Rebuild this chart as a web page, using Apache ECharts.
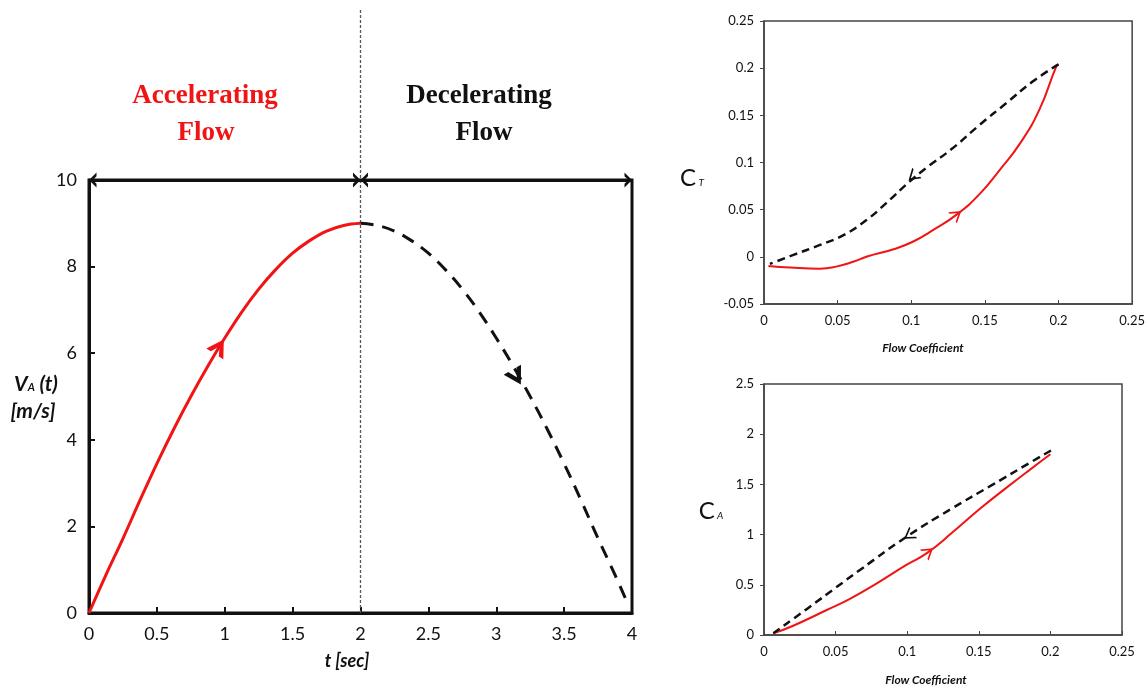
<!DOCTYPE html>
<html><head><meta charset="utf-8">
<script src="https://cdn.jsdelivr.net/npm/echarts@6/dist/echarts.min.js"></script>
<style>html,body{margin:0;padding:0;background:#fff}#c{width:1148px;height:688px}</style>
</head><body><div id="c"></div>
<script>
// ---- data ----
const accT = [0, 0.125, 0.25, 0.375, 0.5, 0.625, 0.75, 0.875, 1, 1.125, 1.25, 1.375, 1.5, 1.625, 1.75, 1.875, 2];
const accV = [0, 0.88, 1.72, 2.6, 3.45, 4.25, 5.0, 5.7, 6.35, 6.95, 7.48, 7.93, 8.31, 8.6, 8.82, 8.95, 9.0];
const decT = [2, 2.125, 2.25, 2.375, 2.5, 2.625, 2.75, 2.875, 3, 3.125, 3.25, 3.375, 3.5, 3.625, 3.75, 3.875, 3.95];
const decV = [9.0, 8.95, 8.82, 8.6, 8.31, 7.93, 7.48, 6.95, 6.35, 5.7, 5.0, 4.25, 3.45, 2.6, 1.72, 0.88, 0.35];
const accArrow = [0.96, 6.15];
const decArrow = [3.15, 5.45];
const splitT = 2;

const ctAccX = [0.003, 0.018, 0.038, 0.049, 0.061, 0.07, 0.088, 0.101, 0.115, 0.131, 0.147, 0.16, 0.174, 0.187, 0.1985, 0.2];
const ctAccY = [-0.0097, -0.0114, -0.0125, -0.0104, -0.005, 0.0003, 0.008, 0.016, 0.0285, 0.045, 0.0675, 0.092, 0.1205, 0.156, 0.202, 0.204];
const ctDecX = [0.2, 0.1826, 0.1646, 0.1465, 0.128, 0.11, 0.099, 0.083, 0.0696, 0.054, 0.038, 0.02, 0.004];
const ctDecY = [0.204, 0.186, 0.163, 0.14, 0.115, 0.094, 0.08, 0.057, 0.039, 0.023, 0.0126, 0.002, -0.0075];
const ctAccArrow = [0.131, 0.045];
const ctDecArrow = [0.101, 0.085];

const caAccX = [0.0065, 0.02, 0.0438, 0.06, 0.0788, 0.0997, 0.1137, 0.1323, 0.151, 0.1696, 0.186, 0.2];
const caAccY = [0.017, 0.09, 0.249, 0.36, 0.515, 0.70, 0.815, 1.03, 1.26, 1.47, 1.65, 1.80];
const caDecX = [0.2004, 0.185, 0.16, 0.13, 0.0997, 0.067, 0.05, 0.03, 0.0065];
const caDecY = [1.838, 1.71, 1.5, 1.25, 0.98, 0.648, 0.47, 0.26, 0.017];
const caAccArrow = [0.115, 0.83];
const caDecArrow = [0.101, 0.99];

// ---- helpers ----
const zip = (a, b) => a.map((v, i) => [v, b[i]]);
const CHEV = 'path://M0,10 L5,0 L10,10 L7.4,10 L5,4.8 L2.6,10 Z';
// arrowhead whose tip sits at the centre of its box (tiny invisible point extends the box)
const CHEV_TIP = 'path://M5,0 L5.02,0 L5,0.02 Z M5,5 L10,10 L7.5,10 L5,7.5 L2.5,10 L0,10 Z';
const CHEV_THIN = 'path://M0,10 L5,0 L10,10 L8.6,10 L5,2.8 L1.4,10 Z';
const RED = '#f01414';
const INK = '#111';
const FONT = 'Lato, "Open Sans", sans-serif';

function leftAxis(extra) {
  return Object.assign({
    axisLine: { show: true, onZero: false, lineStyle: { color: INK, width: 3 } },
    axisTick: { show: true, inside: true, length: 6, lineStyle: { color: INK, width: 2 } },
    axisLabel: { color: INK, fontSize: 18, fontFamily: FONT, margin: 12 },
    splitLine: { show: false }
  }, extra);
}
function rightAxis(extra, inside) {
  return Object.assign({
    axisLine: { show: true, onZero: false, lineStyle: { color: '#444', width: 1.5 } },
    axisTick: { show: true, inside: inside, length: 4, lineStyle: { color: '#444', width: 1 } },
    axisLabel: { color: INK, fontSize: 13, fontFamily: FONT, margin: 10 },
    splitLine: { show: false }
  }, extra);
}

const chart = echarts.init(document.getElementById('c'));
chart.setOption({
  animation: false,
  backgroundColor: '#fff',
  grid: [
    { left: 89, right: 516, top: 180, bottom: 75, show: true, borderColor: INK, borderWidth: 3, backgroundColor: 'transparent' },
    { left: 764, right: 15, top: 21, bottom: 384, show: true, borderColor: '#444', borderWidth: 1.5, backgroundColor: 'transparent' },
    { left: 764, right: 26, top: 384, bottom: 53, show: true, borderColor: '#444', borderWidth: 1.5, backgroundColor: 'transparent' },
    { left: 89, right: 516, top: 8, bottom: 75, show: false }
  ],
  xAxis: [
    leftAxis({ gridIndex: 0, type: 'value', min: 0, max: 4, interval: 0.5 }),
    rightAxis({ gridIndex: 1, type: 'value', min: 0, max: 0.25, interval: 0.05 }, true),
    rightAxis({ gridIndex: 2, type: 'value', min: 0, max: 0.25, interval: 0.05 }, true),
    { gridIndex: 3, type: 'value', min: 0, max: 4, show: false }
  ],
  yAxis: [
    leftAxis({ gridIndex: 0, type: 'value', min: 0, max: 10, interval: 2 }),
    rightAxis({ gridIndex: 1, type: 'value', min: -0.05, max: 0.25, interval: 0.05 }, false),
    rightAxis({ gridIndex: 2, type: 'value', min: 0, max: 2.5, interval: 0.5 }, false),
    { gridIndex: 3, type: 'value', min: 0, max: 1, show: false }
  ],
  series: [
    {
      type: 'line', xAxisIndex: 3, yAxisIndex: 3, data: [[splitT, 0], [splitT, 1]],
      showSymbol: false, silent: true,
      lineStyle: { color: '#555', width: 1.3, type: [3, 2] }, z: 1
    },
    {
      name: 'Accelerating', type: 'line', xAxisIndex: 0, yAxisIndex: 0,
      data: zip(accT, accV), smooth: 0.4, showSymbol: false,
      lineStyle: { color: RED, width: 3 },
      markPoint: {
        silent: true, symbol: CHEV, symbolSize: [20, 17], symbolRotate: -32,
        itemStyle: { color: RED }, label: { show: false },
        data: [{ coord: accArrow }]
      },
      markLine: {
        silent: true, symbol: [CHEV_TIP, CHEV_TIP], symbolSize: 15,
        lineStyle: { color: INK, width: 3, type: 'solid' }, label: { show: false },
        emphasis: { disabled: true },
        data: [
          [{ coord: [0, 10] }, { coord: [splitT, 10] }],
          [{ coord: [splitT, 10] }, { coord: [4, 10] }]
        ]
      }
    },
    {
      name: 'Decelerating', type: 'line', xAxisIndex: 0, yAxisIndex: 0,
      data: zip(decT, decV), smooth: 0.4, showSymbol: false,
      lineStyle: { color: INK, width: 3, type: [13, 9] },
      markPoint: {
        silent: true, symbol: CHEV, symbolSize: [20, 17], symbolRotate: -150,
        itemStyle: { color: INK }, label: { show: false },
        data: [{ coord: decArrow }]
      }
    },
    {
      type: 'line', xAxisIndex: 1, yAxisIndex: 1, data: zip(ctAccX, ctAccY),
      smooth: true, showSymbol: false, lineStyle: { color: RED, width: 2 },
      markPoint: { silent: true, symbol: CHEV_THIN, symbolSize: [14, 11], symbolRotate: -52,
        itemStyle: { color: RED }, label: { show: false }, data: [{ coord: ctAccArrow }] }
    },
    {
      type: 'line', xAxisIndex: 1, yAxisIndex: 1, data: zip(ctDecX, ctDecY),
      smooth: true, showSymbol: false, lineStyle: { color: INK, width: 2.5, type: [8, 5] },
      markPoint: { silent: true, symbol: CHEV_THIN, symbolSize: [14, 11], symbolRotate: 131,
        itemStyle: { color: INK }, label: { show: false }, data: [{ coord: ctDecArrow }] }
    },
    {
      type: 'line', xAxisIndex: 2, yAxisIndex: 2, data: zip(caAccX, caAccY),
      smooth: true, showSymbol: false, lineStyle: { color: RED, width: 2 },
      markPoint: { silent: true, symbol: CHEV_THIN, symbolSize: [14, 11], symbolRotate: -52,
        itemStyle: { color: RED }, label: { show: false }, data: [{ coord: caAccArrow }] }
    },
    {
      type: 'line', xAxisIndex: 2, yAxisIndex: 2, data: zip(caDecX, caDecY),
      smooth: true, showSymbol: false, lineStyle: { color: INK, width: 2.5, type: [8, 5] },
      markPoint: { silent: true, symbol: CHEV_THIN, symbolSize: [14, 11], symbolRotate: 124,
        itemStyle: { color: INK }, label: { show: false }, data: [{ coord: caDecArrow }] }
    }
  ],
  graphic: [
    { type: 'text', x: 205, y: 96, style: { text: 'Accelerating', fill: RED, font: 'bold 27px "Liberation Serif", serif', textAlign: 'center', textVerticalAlign: 'middle' } },
    { type: 'text', x: 206, y: 133, style: { text: 'Flow', fill: RED, font: 'bold 27px "Liberation Serif", serif', textAlign: 'center', textVerticalAlign: 'middle' } },
    { type: 'text', x: 479, y: 96, style: { text: 'Decelerating', fill: INK, font: 'bold 27px "Liberation Serif", serif', textAlign: 'center', textVerticalAlign: 'middle' } },
    { type: 'text', x: 484, y: 133, style: { text: 'Flow', fill: INK, font: 'bold 27px "Liberation Serif", serif', textAlign: 'center', textVerticalAlign: 'middle' } },
    { type: 'text', x: 36, y: 384, style: {
      text: '{v|V}{s|A}{v| (t)}', textAlign: 'center', textVerticalAlign: 'middle',
      rich: {
        v: { fontFamily: FONT, fontStyle: 'italic', fontWeight: 'bold', fontSize: 21, fill: INK, verticalAlign: 'bottom' },
        s: { fontFamily: FONT, fontStyle: 'italic', fontWeight: 'bold', fontSize: 11, fill: INK, verticalAlign: 'bottom', padding: [0, 0, 2, 0] }
      } } },
    { type: 'text', x: 33, y: 411, style: { text: '[m/s]', fill: INK, font: 'italic bold 21px Lato, sans-serif', textAlign: 'center', textVerticalAlign: 'middle' } },
    { type: 'text', x: 347, y: 661, style: { text: 't [sec]', fill: INK, font: 'italic bold 18px Lato, sans-serif', textAlign: 'center', textVerticalAlign: 'middle' } },
    { type: 'text', x: 692, y: 178, style: {
      text: '{c|C}{s| T}', textAlign: 'center', textVerticalAlign: 'middle',
      rich: {
        c: { fontFamily: FONT, fontSize: 24, fill: INK, verticalAlign: 'bottom' },
        s: { fontFamily: FONT, fontStyle: 'italic', fontSize: 10, fill: INK, verticalAlign: 'bottom', padding: [0, 0, 2, 0] }
      } } },
    { type: 'text', x: 711, y: 511, style: {
      text: '{c|C}{s| A}', textAlign: 'center', textVerticalAlign: 'middle',
      rich: {
        c: { fontFamily: FONT, fontSize: 24, fill: INK, verticalAlign: 'bottom' },
        s: { fontFamily: FONT, fontStyle: 'italic', fontSize: 10, fill: INK, verticalAlign: 'bottom', padding: [0, 0, 2, 0] }
      } } },
    { type: 'text', x: 923, y: 348, style: { text: 'Flow Coefficient', fill: INK, font: 'italic bold 12px Lato, sans-serif', textAlign: 'center', textVerticalAlign: 'middle' } },
    { type: 'text', x: 926, y: 680, style: { text: 'Flow Coefficient', fill: INK, font: 'italic bold 12px Lato, sans-serif', textAlign: 'center', textVerticalAlign: 'middle' } }
  ]
});
</script></body></html>
